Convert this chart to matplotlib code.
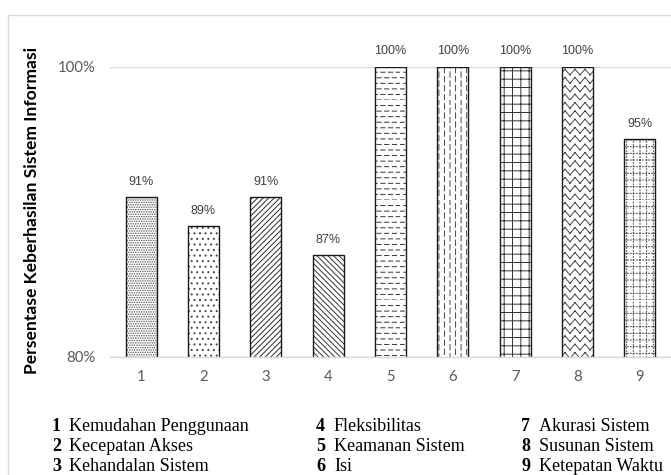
import warnings

import matplotlib
matplotlib.use("Agg")
import matplotlib.hatch as mhatch
import matplotlib.pyplot as plt
import matplotlib.ticker as ticker
from matplotlib.lines import Line2D
from matplotlib.path import Path

warnings.filterwarnings("ignore", message="hatch must consist")

CATEGORIES = ["1", "2", "3", "4", "5", "6", "7", "8", "9"]
SUCCESS_PCT = [91, 89, 91, 87, 100, 100, 100, 100, 95]
ASPECTS = [
    "Kemudahan Penggunaan",
    "Kecepatan Akses",
    "Kehandalan Sistem",
    "Fleksibilitas",
    "Keamanan Sistem",
    "Isi",
    "Akurasi Sistem",
    "Susunan Sistem",
    "Ketepatan Waktu",
]

HATCHES = [".......", "...", "//////", "\\\\\\\\\\\\", "___", ":::", "++", "~~", "##"]
HATCH_COLORS = ["#555555", "#444444", "#2a2a2a", "#333333", "#333333",
                "#444444", "#333333", "#444444", "#555555"]


# extra hatch patterns: dashed rows, dashed columns, zigzag weave, dotted grid
class DashRows(mhatch.HatchPatternBase):
    def __init__(self, hatch, density):
        self.rows = hatch.count("_") * density
        self.per_row = int(self.rows * 0.75)
        self.num_vertices = self.rows * self.per_row * 2

    def set_vertices_and_codes(self, vertices, codes):
        dy = 1.0 / self.rows
        dx = 1.0 / self.per_row
        k = 0
        for r in range(self.rows):
            shift = 0.5 * dx * (r % 2)
            for c in range(self.per_row):
                x0 = c * dx + shift
                vertices[k] = (x0, r * dy)
                vertices[k + 1] = (x0 + 0.55 * dx, r * dy)
                k += 2
        codes[0::2] = Path.MOVETO
        codes[1::2] = Path.LINETO


class DashCols(mhatch.HatchPatternBase):
    def __init__(self, hatch, density):
        self.cols = hatch.count(":") * density
        self.per_col = int(self.cols * 0.65)
        self.num_vertices = self.cols * self.per_col * 2

    def set_vertices_and_codes(self, vertices, codes):
        dx = 1.0 / self.cols
        dy = 1.0 / self.per_col
        k = 0
        for c in range(self.cols):
            shift = 0.5 * dy * (c % 2)
            for r in range(self.per_col):
                y0 = r * dy + shift
                vertices[k] = (c * dx, y0)
                vertices[k + 1] = (c * dx, y0 + 0.6 * dy)
                k += 2
        codes[0::2] = Path.MOVETO
        codes[1::2] = Path.LINETO


class ZigzagRows(mhatch.HatchPatternBase):
    # drawn as separate strokes so the renderer does not fill them
    def __init__(self, hatch, density):
        self.rows = hatch.count("~") * density
        self.teeth = 10 if self.rows else 0
        self.num_vertices = self.rows * self.teeth * 4

    def set_vertices_and_codes(self, vertices, codes):
        dy = 1.0 / self.rows
        dx = 1.0 / (2 * self.teeth)
        amp = 0.7 * dy
        k = 0
        for r in range(self.rows):
            y = r * dy
            for t in range(self.teeth):
                x0 = 2 * t * dx
                vertices[k] = (x0, y)
                vertices[k + 1] = (x0 + dx, y + amp)
                vertices[k + 2] = (x0 + dx, y + amp)
                vertices[k + 3] = (x0 + 2 * dx, y)
                k += 4
        codes[0::2] = Path.MOVETO
        codes[1::2] = Path.LINETO


class DottedGrid(mhatch.HatchPatternBase):
    def __init__(self, hatch, density):
        self.lines = int(hatch.count("#") * density * 1.25)
        self.dots = 33 if self.lines else 0
        self.num_vertices = self.lines * self.dots * 4

    def set_vertices_and_codes(self, vertices, codes):
        step = 1.0 / self.lines
        dd = 1.0 / self.dots
        k = 0
        for i in range(self.lines):
            for j in range(self.dots):
                vertices[k] = (i * step, j * dd)
                vertices[k + 1] = (i * step, j * dd + 0.35 * dd)
                vertices[k + 2] = (j * dd, i * step)
                vertices[k + 3] = (j * dd + 0.35 * dd, i * step)
                k += 4
        codes[0::2] = Path.MOVETO
        codes[1::2] = Path.LINETO


mhatch._hatch_types.extend([DashRows, DashCols, ZigzagRows, DottedGrid])

plt.rcParams["hatch.linewidth"] = 0.7

fig = plt.figure(figsize=(6.71, 4.75), dpi=100)
ax = fig.add_axes([110 / 671, 1 - 357 / 475, 561 / 671, 290.5 / 475])

x = list(range(1, len(CATEGORIES) + 1))
for xi, v, h, hc in zip(x, SUCCESS_PCT, HATCHES, HATCH_COLORS):
    ax.bar(xi, v, width=0.5, color="white", edgecolor=hc, linewidth=0, hatch=h)
ax.bar(x, SUCCESS_PCT, width=0.5, fill=False, edgecolor="#1a1a1a", linewidth=1.0)

for xi, v in zip(x, SUCCESS_PCT):
    ax.annotate(f"{v}%", (xi, v), xytext=(0, 6.5), textcoords="offset points",
                ha="center", va="bottom", fontsize=9, color="#404040",
                family="Liberation Sans", annotation_clip=False)

ax.set_xlim(0.5, len(CATEGORIES) + 0.5)
ax.set_ylim(80, 100)
ax.set_xticks(x)
ax.set_xticklabels(CATEGORIES)
ax.set_yticks([80, 100])
ax.yaxis.set_major_formatter(ticker.PercentFormatter(decimals=0))
ax.tick_params(axis="both", length=0, labelsize=10.7, labelcolor="#595959")
ax.tick_params(axis="x", pad=9.5)
ax.tick_params(axis="y", pad=10.5)
for lab in ax.get_xticklabels() + ax.get_yticklabels():
    lab.set_family("Lato")
ax.yaxis.grid(True, color="#d9d9d9", linewidth=1)
ax.set_axisbelow(True)
for side in ("top", "right", "left"):
    ax.spines[side].set_visible(False)
ax.spines["bottom"].set_color("#d9d9d9")
ax.spines["bottom"].set_linewidth(1)

fig.text(32 / 671, 1 - 210 / 475, "Persentase Keberhasilan Sistem Informasi",
         rotation=90, ha="center", va="center", fontsize=12.6,
         fontweight="bold", family="Lato", color="black")

# chart frame (left and top edges)
bx, by = 8 / 671, 1 - 15 / 475
fig.add_artist(Line2D([bx, bx], [0, by], transform=fig.transFigure,
                      color="#d9d9d9", linewidth=1))
fig.add_artist(Line2D([bx, 1], [by, by], transform=fig.transFigure,
                      color="#d9d9d9", linewidth=1))

# numbered key below the chart, three columns
num_x = [52, 316, 521]
name_x = [69, 334, 539]
row_y = [431, 451, 471]
for i, (cat, name) in enumerate(zip(CATEGORIES, ASPECTS)):
    col, row = divmod(i, 3)
    fy = 1 - row_y[row] / 475
    fig.text(num_x[col] / 671, fy, cat, ha="left", va="baseline",
             fontsize=13, fontweight="bold", family="Liberation Serif")
    fig.text(name_x[col] / 671, fy, name, ha="left", va="baseline",
             fontsize=13, family="Liberation Serif")

fig.savefig("out.png", dpi=100, facecolor="white")
